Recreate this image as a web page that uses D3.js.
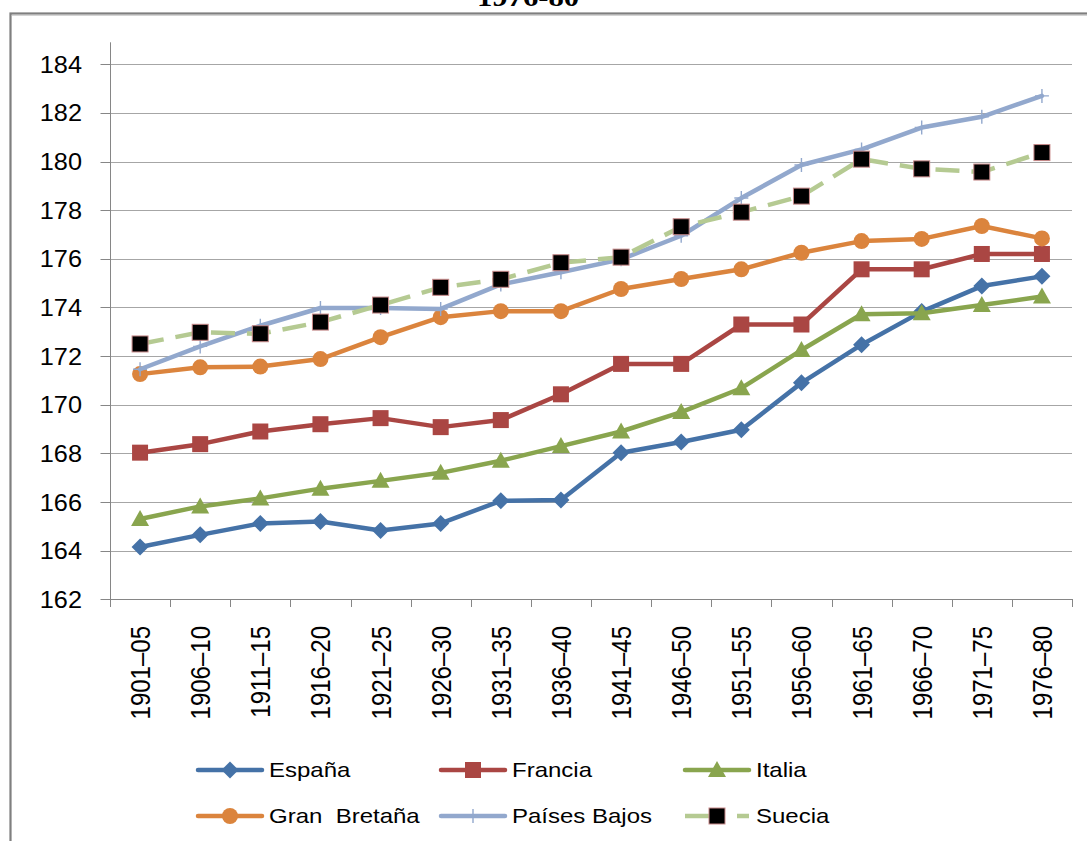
<!DOCTYPE html>
<html>
<head>
<meta charset="utf-8">
<script src="https://cdn.jsdelivr.net/npm/d3@7"></script>
<style>
  html, body { margin: 0; padding: 0; background: #fff; }
  svg { display: block; }
  text { font-family: "Liberation Sans", Arial, sans-serif; fill: #000; white-space: pre; }
</style>
</head>
<body>
<svg id="chart" width="1087" height="841"></svg>
<script>
// Periods (x categories)
const periods = ["1901–05","1906–10","1911–15","1916–20","1921–25","1926–30","1931–35","1936–40",
                 "1941–45","1946–50","1951–55","1956–60","1961–65","1966–70","1971–75","1976–80"];

// Average height (cm) per country
const espana      = [164.15,164.65,165.12,165.2,164.83,165.12,166.05,166.08,168.03,168.47,168.97,170.9,172.47,173.83,174.88,175.28];
const francia     = [168.03,168.38,168.9,169.2,169.45,169.08,169.37,170.43,171.68,171.68,173.3,173.3,175.57,175.57,176.2,176.2];
const italia      = [165.3,165.82,166.15,166.55,166.87,167.2,167.7,168.3,168.9,169.7,170.68,172.25,173.72,173.76,174.1,174.45];
const granBretana = [171.26,171.54,171.57,171.88,172.78,173.6,173.85,173.85,174.76,175.17,175.57,176.25,176.73,176.82,177.35,176.84];
const paisesBajos = [171.46,172.4,173.25,173.98,173.98,173.94,174.95,175.45,175.98,176.95,178.5,179.86,180.5,181.4,181.84,182.7];
const suecia      = [172.5,172.98,172.92,173.4,174.1,174.83,175.16,175.84,176.07,177.32,177.92,178.58,180.1,179.7,179.57,180.37];

const yTicks = [162,164,166,168,170,172,174,176,178,180,182,184];
const titleText = "1976-80";

const series = [
  { name: "España",        values: espana,      color: "#4572A7", marker: "diamond" },
  { name: "Francia",       values: francia,     color: "#AA4643", marker: "square" },
  { name: "Italia",        values: italia,      color: "#89A54E", marker: "triangle" },
  { name: "Gran  Bretaña", values: granBretana, color: "#DB843D", marker: "circle" },
  { name: "Países Bajos",  values: paisesBajos, color: "#92A8CD", marker: "plus" },
  { name: "Suecia",        values: suecia,      color: "#B5CA92", marker: "blacksquare", dashed: true }
];

const svg = d3.select("#chart");

// Outer frame (only the top and left edges fall inside the view)
svg.append("rect")
  .attr("x", 10.5).attr("y", 13.5)
  .attr("width", 1200).attr("height", 1000)
  .attr("fill", "none").attr("stroke", "#7f7f7f").attr("stroke-width", 2.2);
svg.append("line")
  .attr("x1", 12).attr("x2", 1087).attr("y1", 15.5).attr("y2", 15.5)
  .attr("stroke", "#d4d4d4").attr("stroke-width", 1);

// Title, mostly cut off at the top edge
svg.append("text")
  .attr("transform", "translate(528,6) scale(1.18,1)")
  .attr("text-anchor", "middle")
  .style("font-family", "'Liberation Serif', 'Times New Roman', serif")
  .style("font-weight", "bold")
  .style("font-size", "26px")
  .text(titleText);

// Scales
const x = d3.scaleBand().domain(periods).range([110, 1072]).padding(0);
const cx = d => x(d) + x.bandwidth() / 2;
const y = d3.scaleLinear().domain([162, 184]).range([599.3, 64.3]);

const axisColor = "#868686";

// Gridlines
svg.append("g").selectAll("line")
  .data(yTicks.filter(t => t !== 162))
  .join("line")
  .attr("x1", 110).attr("x2", 1072)
  .attr("y1", d => Math.round(y(d)) + 0.5).attr("y2", d => Math.round(y(d)) + 0.5)
  .attr("stroke", "#a6a6a6").attr("stroke-width", 1);

// Y axis
const yAxis = svg.append("g").attr("transform", "translate(110.5,0)");
yAxis.append("line")
  .attr("x1", 0).attr("x2", 0)
  .attr("y1", y(184) - 22).attr("y2", y(162))
  .attr("stroke", axisColor).attr("stroke-width", 1);
yAxis.selectAll("line.tick")
  .data(yTicks)
  .join("line").attr("class", "tick")
  .attr("x1", -10).attr("x2", 0)
  .attr("y1", d => Math.round(y(d)) + 0.5).attr("y2", d => Math.round(y(d)) + 0.5)
  .attr("stroke", axisColor);
svg.append("g").selectAll("text")
  .data(yTicks)
  .join("text")
  .attr("transform", d => `translate(82,${y(d) + 8.5}) scale(1.1,1)`)
  .attr("text-anchor", "end")
  .style("font-size", "23px")
  .text(d => d);

// X axis
const xAxis = svg.append("g");
xAxis.append("line")
  .attr("x1", 110).attr("x2", 1072)
  .attr("y1", Math.round(y(162)) + 0.5).attr("y2", Math.round(y(162)) + 0.5)
  .attr("stroke", axisColor);
const boundaries = periods.map(p => x(p)).concat([x.range()[1]]);
xAxis.selectAll("line.tick")
  .data(boundaries)
  .join("line").attr("class", "tick")
  .attr("x1", d => Math.round(d) + 0.5).attr("x2", d => Math.round(d) + 0.5)
  .attr("y1", Math.round(y(162))).attr("y2", Math.round(y(162)) + 8)
  .attr("stroke", axisColor);
xAxis.selectAll("text")
  .data(periods)
  .join("text")
  .attr("transform", d => `translate(${cx(d)},626) rotate(-90) scale(1,1.16)`)
  .attr("text-anchor", "end")
  .attr("dy", "0.36em")
  .style("font-size", "24px")
  .text(d => d);

// Marker drawing
function drawMarker(sel, type, color) {
  if (type === "diamond") {
    sel.append("path").attr("d", "M0,-8.5L8.5,0L0,8.5L-8.5,0Z").attr("fill", color);
  } else if (type === "square") {
    sel.append("rect").attr("x", -8).attr("y", -8).attr("width", 16).attr("height", 16).attr("fill", color);
  } else if (type === "triangle") {
    sel.append("path").attr("d", "M0,-9L9,7L-9,7Z").attr("fill", color);
  } else if (type === "circle") {
    sel.append("circle").attr("r", 8).attr("fill", color);
  } else if (type === "plus") {
    sel.append("path").attr("d", "M-7,0H7M0,-7V7").attr("stroke", color).attr("stroke-width", 1.4).attr("fill", "none");
  } else if (type === "blacksquare") {
    sel.append("rect").attr("x", -8).attr("y", -8).attr("width", 16).attr("height", 16)
      .attr("fill", "#000").attr("stroke", "#c98a8a").attr("stroke-width", 1);
  }
}

// Series lines and markers
const line = d3.line().x((v, i) => cx(periods[i])).y(v => y(v));
series.forEach(s => {
  const g = svg.append("g");
  g.append("path")
    .attr("d", line(s.values))
    .attr("fill", "none")
    .attr("stroke", s.color)
    .attr("stroke-width", 4.5)
    .attr("stroke-linejoin", "round")
    .attr("stroke-linecap", s.dashed ? "butt" : "round")
    .attr("stroke-dasharray", s.dashed ? "24,12" : null);
  s.values.forEach((v, i) => {
    const m = g.append("g").attr("transform", `translate(${cx(periods[i])},${y(v)})`);
    drawMarker(m, s.marker, s.color);
  });
});

// Legend: three columns, two rows
const legendCols = [198, 441, 685];
const legendRows = [770, 816];
series.forEach((s, i) => {
  const lx = legendCols[i % 3];
  const ly = legendRows[Math.floor(i / 3)];
  const g = svg.append("g").attr("transform", `translate(${lx},${ly})`);
  g.append("line")
    .attr("x1", 0).attr("x2", 64).attr("y1", 0).attr("y2", 0)
    .attr("stroke", s.color).attr("stroke-width", 4.5)
    .attr("stroke-linecap", s.dashed ? "butt" : "round")
    .attr("stroke-dasharray", s.dashed ? "24,28,14" : null);
  const m = g.append("g").attr("transform", "translate(32,0)");
  drawMarker(m, s.marker, s.color);
  g.append("text")
    .attr("transform", "translate(71,7) scale(1.2,1)")
    .style("font-size", "20px")
    .text(s.name);
});
</script>
</body>
</html>
